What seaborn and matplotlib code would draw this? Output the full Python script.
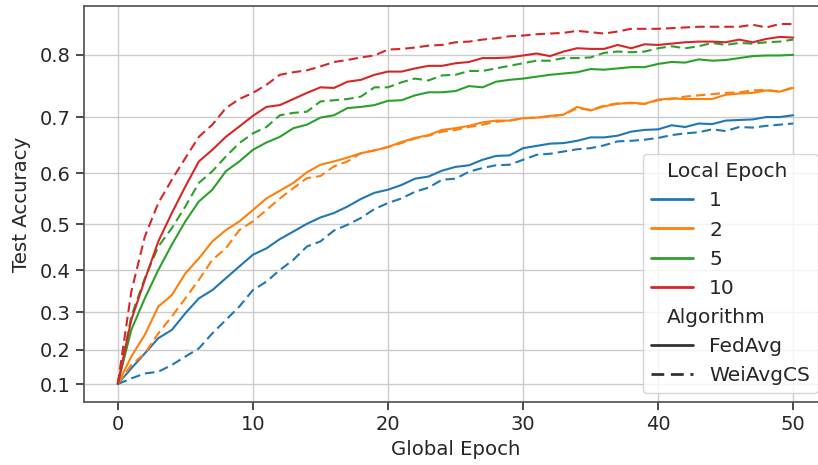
import numpy as np
import pandas as pd
import matplotlib
matplotlib.use("Agg")
import matplotlib.pyplot as plt
import seaborn as sns
from matplotlib.ticker import FixedLocator

epochs = list(range(51))

fedavg_le1 = [0.100, 0.147, 0.190, 0.232, 0.254, 0.297, 0.334, 0.354, 0.382, 0.409, 0.435,
              0.449, 0.469, 0.485, 0.501, 0.514, 0.523, 0.536, 0.551, 0.563, 0.569,
              0.578, 0.590, 0.594, 0.605, 0.612, 0.615, 0.625, 0.632, 0.633, 0.646,
              0.650, 0.654, 0.655, 0.659, 0.665, 0.665, 0.668, 0.675, 0.678, 0.679,
              0.686, 0.683, 0.689, 0.688, 0.694, 0.695, 0.696, 0.700, 0.700, 0.703]
weiavgcs_le1 = [0.100, 0.117, 0.132, 0.137, 0.157, 0.181, 0.204, 0.245, 0.280, 0.314, 0.354,
                0.374, 0.401, 0.424, 0.453, 0.464, 0.487, 0.499, 0.513, 0.531, 0.543,
                0.552, 0.565, 0.573, 0.588, 0.590, 0.603, 0.610, 0.615, 0.616, 0.625,
                0.634, 0.636, 0.640, 0.644, 0.646, 0.651, 0.658, 0.659, 0.661, 0.664,
                0.669, 0.672, 0.674, 0.679, 0.676, 0.683, 0.682, 0.685, 0.687, 0.689]
fedavg_le2 = [0.100, 0.181, 0.241, 0.314, 0.342, 0.393, 0.427, 0.464, 0.488, 0.506, 0.529,
              0.552, 0.567, 0.582, 0.602, 0.616, 0.622, 0.629, 0.637, 0.642, 0.648,
              0.657, 0.664, 0.669, 0.678, 0.681, 0.685, 0.691, 0.694, 0.694, 0.698,
              0.699, 0.702, 0.704, 0.717, 0.711, 0.718, 0.722, 0.724, 0.722, 0.729,
              0.731, 0.730, 0.730, 0.730, 0.737, 0.739, 0.740, 0.744, 0.742, 0.748]
weiavgcs_le2 = [0.100, 0.157, 0.190, 0.245, 0.289, 0.334, 0.378, 0.424, 0.449, 0.488, 0.506,
                0.529, 0.552, 0.572, 0.591, 0.595, 0.613, 0.622, 0.637, 0.642, 0.648,
                0.655, 0.663, 0.668, 0.675, 0.678, 0.683, 0.687, 0.692, 0.694, 0.698,
                0.699, 0.701, 0.704, 0.715, 0.712, 0.719, 0.723, 0.723, 0.722, 0.728,
                0.730, 0.734, 0.736, 0.738, 0.740, 0.741, 0.744, 0.745, 0.742, 0.749]
fedavg_le5 = [0.100, 0.254, 0.334, 0.401, 0.457, 0.506, 0.546, 0.569, 0.604, 0.622, 0.643,
              0.656, 0.666, 0.681, 0.687, 0.699, 0.703, 0.715, 0.717, 0.720, 0.727,
              0.728, 0.736, 0.741, 0.741, 0.743, 0.751, 0.749, 0.758, 0.761, 0.763,
              0.766, 0.769, 0.771, 0.773, 0.778, 0.777, 0.779, 0.781, 0.781, 0.786,
              0.789, 0.788, 0.793, 0.791, 0.792, 0.795, 0.798, 0.799, 0.799, 0.800]
weiavgcs_le5 = [0.100, 0.289, 0.382, 0.453, 0.492, 0.536, 0.582, 0.604, 0.631, 0.655, 0.672,
                0.683, 0.703, 0.707, 0.709, 0.726, 0.728, 0.730, 0.734, 0.749, 0.749,
                0.757, 0.763, 0.760, 0.768, 0.769, 0.775, 0.775, 0.779, 0.783, 0.787,
                0.791, 0.791, 0.795, 0.795, 0.796, 0.803, 0.805, 0.804, 0.805, 0.810,
                0.813, 0.810, 0.813, 0.818, 0.815, 0.818, 0.817, 0.819, 0.820, 0.823]
fedavg_le10 = [0.100, 0.280, 0.378, 0.464, 0.523, 0.575, 0.622, 0.643, 0.666, 0.684, 0.702,
               0.717, 0.720, 0.730, 0.740, 0.749, 0.748, 0.758, 0.761, 0.769, 0.774,
               0.774, 0.779, 0.783, 0.783, 0.787, 0.789, 0.795, 0.795, 0.796, 0.799,
               0.802, 0.798, 0.805, 0.810, 0.809, 0.809, 0.815, 0.810, 0.816, 0.815,
               0.817, 0.819, 0.820, 0.820, 0.819, 0.823, 0.819, 0.824, 0.827, 0.826]
weiavgcs_le10 = [0.100, 0.350, 0.474, 0.543, 0.588, 0.628, 0.666, 0.687, 0.715, 0.730, 0.740,
                 0.753, 0.769, 0.773, 0.776, 0.782, 0.789, 0.792, 0.796, 0.799, 0.808,
                 0.809, 0.811, 0.814, 0.815, 0.819, 0.820, 0.823, 0.825, 0.828, 0.829,
                 0.831, 0.832, 0.833, 0.836, 0.834, 0.832, 0.835, 0.839, 0.839, 0.839,
                 0.840, 0.841, 0.842, 0.842, 0.842, 0.842, 0.845, 0.841, 0.846, 0.846]

local_epochs = ["1", "2", "5", "10"]
algorithms = ["FedAvg", "WeiAvgCS"]
curves = {
    ("1", "FedAvg"): fedavg_le1, ("1", "WeiAvgCS"): weiavgcs_le1,
    ("2", "FedAvg"): fedavg_le2, ("2", "WeiAvgCS"): weiavgcs_le2,
    ("5", "FedAvg"): fedavg_le5, ("5", "WeiAvgCS"): weiavgcs_le5,
    ("10", "FedAvg"): fedavg_le10, ("10", "WeiAvgCS"): weiavgcs_le10,
}

rows = []
for le in local_epochs:
    for alg in algorithms:
        for ep, acc in zip(epochs, curves[(le, alg)]):
            rows.append({"Global Epoch": ep, "Test Accuracy": acc,
                         "Local Epoch": le, "Algorithm": alg})
df = pd.DataFrame(rows)

sns.set_style("ticks")
plt.rcParams["font.family"] = ["DejaVu Sans"]

fig = plt.figure(figsize=(8.18, 4.65), dpi=100)
ax = fig.add_axes([84 / 818, 63 / 465, 743 / 818, 396 / 465])

sns.lineplot(data=df, x="Global Epoch", y="Test Accuracy",
             hue="Local Epoch", style="Algorithm",
             hue_order=local_epochs, style_order=algorithms,
             dashes=["", (4.6, 2.4)],
             palette="tab10", linewidth=1.5, ax=ax)

ax.set_yscale("function", functions=(np.exp, np.log))
ax.yaxis.set_major_locator(FixedLocator([0.1, 0.2, 0.3, 0.4, 0.5, 0.6, 0.7, 0.8]))
ax.yaxis.set_minor_locator(FixedLocator([]))
ax.set_ylim(0.043, 0.872)
ax.set_xlim(-2.5, 52.5)
ax.set_xticks([0, 10, 20, 30, 40, 50])

ax.grid(True, color="#cccccc", linewidth=1.0)
ax.set_axisbelow(True)
for sp in ax.spines.values():
    sp.set_color("#555555")
    sp.set_linewidth(1.25)
ax.tick_params(axis="both", labelsize=14, length=6, width=1.25, color="#333333")
ax.set_xlabel("Global Epoch", fontsize=14.2)
ax.set_ylabel("Test Accuracy", fontsize=14.2, labelpad=6.5)

handles, labels = ax.get_legend_handles_labels()
leg = ax.legend(handles, labels, loc="lower right", fontsize=14.5,
                handlelength=2.1, frameon=True, borderaxespad=0.45)
for line in leg.get_lines():
    if line.get_linewidth() > 0:
        line.set_linewidth(2.0)

# section headings ("Local Epoch", "Algorithm") sit flush left, without a handle slot
headings = {"Local Epoch", "Algorithm"}
for column in leg._legend_handle_box.get_children():
    for row in column.get_children():
        draw_area, text_area = row.get_children()
        if text_area.get_text() in headings:
            draw_area.set_width(0)

fig.savefig("out.png", dpi=100)
